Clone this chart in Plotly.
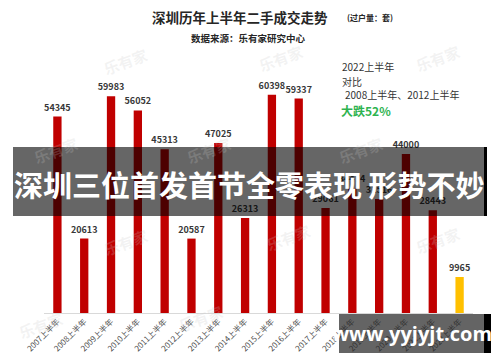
import plotly.graph_objects as go

years = ["2007", "2008", "2009", "2010", "2011", "2012", "2013", "2014",
         "2015", "2016", "2017", "2018", "2019", "2020", "2021", "2022"]
categories = [y + "上半年" for y in years]
values = [54345, 20613, 59983, 56052, 45313, 20587, 47025, 26313,
          60398, 59337, 29061, 34474, 31516, 44000, 28443, 9965]
bar_colors = ["#c00000"] * 15 + ["#ffc000"]

FONT = "Noto Sans CJK SC"
OFF = 8  # page body margin
W, H = 500 - OFF, 362 - OFF
# plot area in page pixels: x 44..473, y 60..313
L, R, T, B = 44 - OFF, 500 - 473, 60 - OFF, 362 - 313
pw, ph = W - L - R, H - T - B


def px(x):
    return (x - OFF - L) / pw


def py(y):
    return (H - B - (y - OFF)) / ph


fig = go.Figure()
fig.add_trace(go.Bar(
    x=categories, y=values, marker=dict(color=bar_colors, line=dict(width=0)),
    text=[str(v) for v in values], textposition="outside",
    textfont=dict(family=FONT, size=9, color="#383838"),
    texttemplate="<b>%{text}</b>", cliponaxis=False, hoverinfo="skip",
    constraintext="none",
))

ann = []
# faint watermarks
for (wx, wy) in [(125, 62), (280, 58), (437, 58), (55, 150), (208, 150), (360, 150),
                 (125, 242), (288, 238), (437, 240), (40, 325), (200, 318)]:
    ann.append(dict(x=px(wx), y=py(wy), text="<b>乐有家</b>", textangle=-20,
                    font=dict(family=FONT, size=15, color="rgba(200,200,200,0.22)")))

ann += [
    dict(x=px(240), y=py(17), text="<b>深圳历年上半年二手成交走势</b>", borderpad=0,
         font=dict(family=FONT, size=13.5, color="#262626")),
    dict(x=px(345), y=py(17), text="<b>(过户量：套)</b>", xanchor="left",
         font=dict(family=FONT, size=8, color="#262626")),
    dict(x=px(248), y=py(38), text="<b>数据来源：乐有家研究中心</b>",
         font=dict(family=FONT, size=9.5, color="#262626")),
    dict(x=px(340), y=py(67), text="2022上半年", xanchor="left",
         font=dict(family=FONT, size=10, color="#333333")),
    dict(x=px(340), y=py(81), text="对比", xanchor="left",
         font=dict(family=FONT, size=10, color="#333333")),
    dict(x=px(343), y=py(94), text="2008上半年、2012上半年", xanchor="left",
         font=dict(family=FONT, size=10, color="#333333")),
    dict(x=px(339), y=py(110), text="<b>大跌52%</b>", xanchor="left",
         font=dict(family=FONT, size=12, color="#2eb34f")),
    dict(x=px(249), y=py(184), text="<b>深圳三位首发首节全零表现 形势不妙</b>",
         font=dict(family=FONT, size=29, color="white")),
    dict(x=px(412), y=py(333), text="<b>www.yyjyjt.com</b>",
         font=dict(family="Open Sans", size=20, color="white")),
]
for a in ann:
    a.setdefault("xref", "paper")
    a.setdefault("yref", "paper")
    a.setdefault("showarrow", False)
    a.setdefault("xanchor", "center")
    a.setdefault("yanchor", "middle")

shapes = [
    dict(type="rect", xref="paper", yref="paper", layer="above",
         x0=px(13), x1=px(484), y0=py(216), y1=py(147),
         fillcolor="rgba(0,0,0,0.6)", line=dict(width=0)),
    dict(type="rect", xref="paper", yref="paper", layer="above",
         x0=px(484), x1=px(487), y0=py(216), y1=py(147),
         fillcolor="black", line=dict(width=0)),
    dict(type="rect", xref="paper", yref="paper", layer="above",
         x0=px(339), x1=px(484), y0=py(353), y1=py(314),
         fillcolor="rgba(40,40,40,0.72)", line=dict(width=0)),
    dict(type="rect", xref="paper", yref="paper", layer="above",
         x0=px(484), x1=px(491), y0=py(353), y1=py(314),
         fillcolor="black", line=dict(width=0)),
]

fig.update_layout(
    width=W, height=H, margin=dict(l=L, r=R, t=T, b=B, autoexpand=False),
    paper_bgcolor="white", plot_bgcolor="white",
    bargap=0.69, showlegend=False,
    annotations=ann, shapes=shapes,
    font=dict(family=FONT),
    xaxis=dict(tickangle=-45, tickfont=dict(family=FONT, size=8, color="#505050"),
               showline=True, linecolor="#d9d9d9", linewidth=1, ticks="",
               showgrid=False, range=[-0.5, 15.5], automargin=False),
    yaxis=dict(range=[0, 70000], visible=False, showgrid=False, automargin=False),
)

fig.write_html("out.html")
